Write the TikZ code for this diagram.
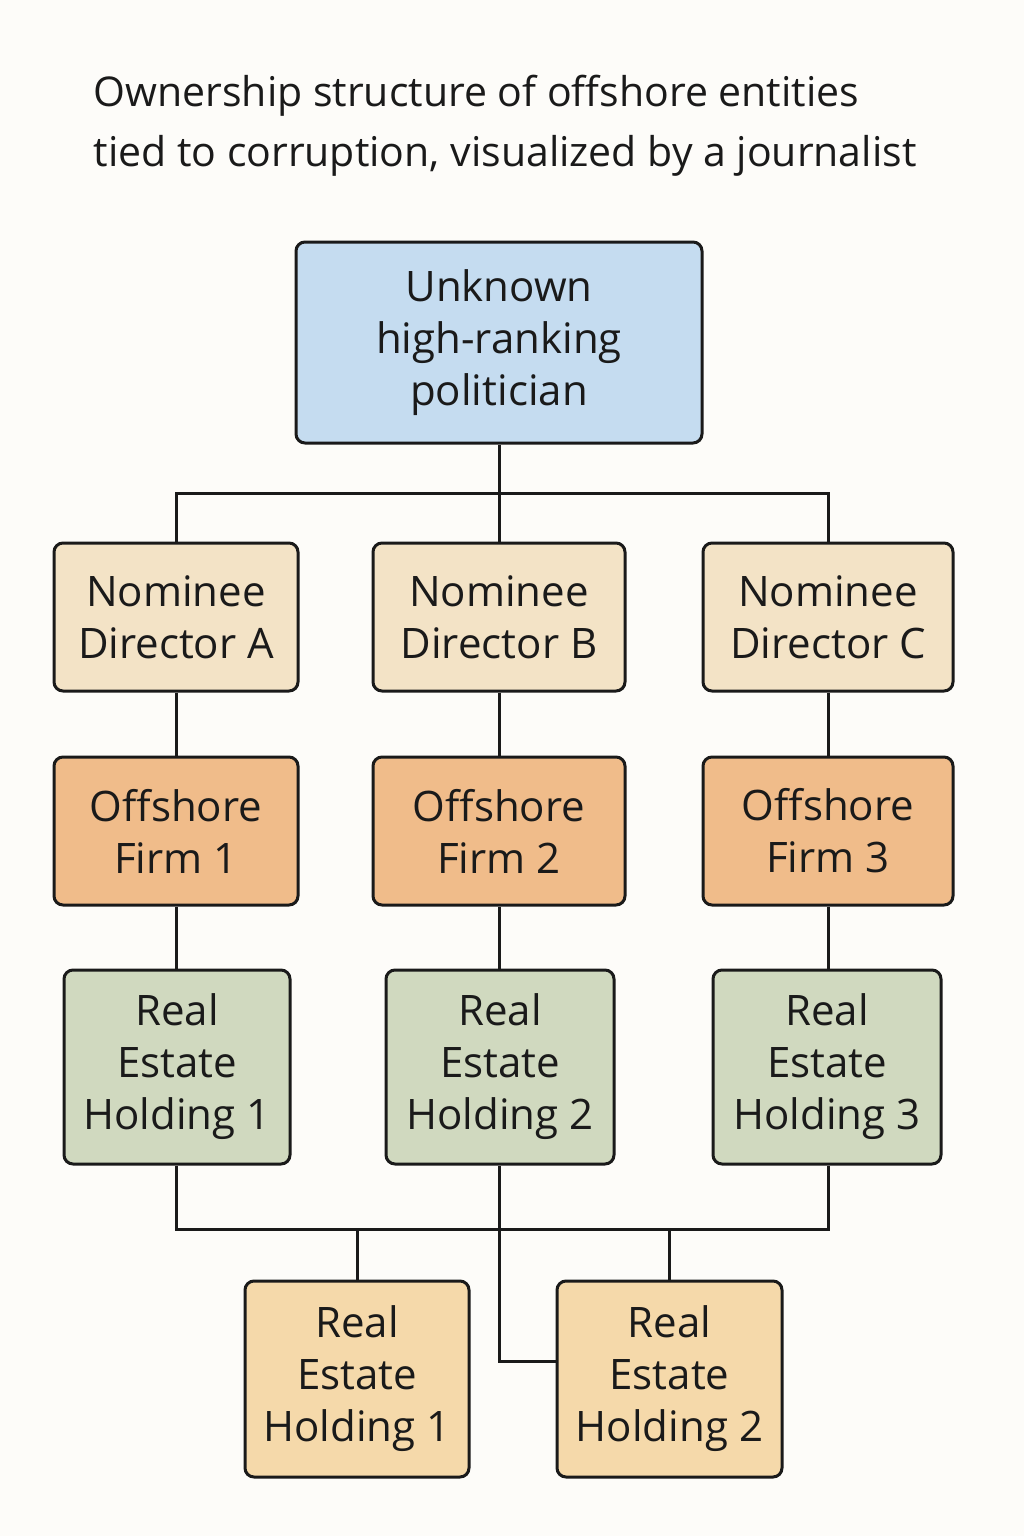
\documentclass[tikz,border=0pt]{standalone}
\usepackage{fontspec}
\setmainfont{Open Sans}
\definecolor{bg}{HTML}{FDFCF9}
\definecolor{cblue}{HTML}{C5DCF0}
\definecolor{cnom}{HTML}{F3E3C6}
\definecolor{coff}{HTML}{F0BC8A}
\definecolor{creal}{HTML}{D0D9BF}
\definecolor{cbot}{HTML}{F5D9AA}
\definecolor{ink}{HTML}{1A1A1A}
\begin{document}
\begin{tikzpicture}[x=1pt,y=-1pt,
  box/.style={draw=ink,line width=3pt,rounded corners=9pt,align=center,inner sep=0pt,
    font=\fontsize{42}{52}\selectfont,text=ink},
  conn/.style={draw=ink,line width=3pt}]
\fill[bg] (0,0) rectangle (1024,1536);
\useasboundingbox (0,0) rectangle (1024,1536);
\node[anchor=north west,align=left,font=\fontsize{41}{60}\selectfont,text=ink] (title) at (90,72)
  {Ownership structure of offshore entities\\tied to corruption, visualized by a journalist};
\newcommand{\mybox}[7]{\node[box,fill=#6,minimum width=#3-#2,minimum height=#5-#4] (#1) at ({(#2+#3)/2},{(#4+#5)/2}) {#7};}
\mybox{top}{296}{702}{242}{443}{cblue}{Unknown\\high-ranking\\politician}
\mybox{na}{54}{298}{543}{691}{cnom}{Nominee\\Director A}
\mybox{nb}{373}{625}{543}{691}{cnom}{Nominee\\Director B}
\mybox{nc}{703}{953}{543}{691}{cnom}{Nominee\\Director C}
\mybox{oa}{54}{298}{757}{905}{coff}{Offshore\\Firm 1}
\mybox{ob}{373}{625}{757}{905}{coff}{Offshore\\Firm 2}
\mybox{oc}{703}{953}{757}{905}{coff}{Offshore\\Firm 3}
\mybox{ra}{64}{290}{970}{1164}{creal}{Real\\Estate\\Holding 1}
\mybox{rb}{386}{614}{970}{1164}{creal}{Real\\Estate\\Holding 2}
\mybox{rc}{713}{941}{970}{1164}{creal}{Real\\Estate\\Holding 3}
\mybox{ba}{245}{469}{1281}{1477}{cbot}{Real\\Estate\\Holding 1}
\mybox{bb}{557}{782}{1281}{1477}{cbot}{Real\\Estate\\Holding 2}
\coordinate (t1) at (499,493);
\coordinate (t2) at (499,1229);
\draw[conn] (top.south) -- (nb.north);
\draw[conn] (na.north) |- (t1) -| (nc.north);
\draw[conn] (na) -- (oa); \draw[conn] (nb) -- (ob); \draw[conn] (nc) -- (oc);
\draw[conn] (oa.south) -- (oa.south|-ra.north);
\draw[conn] (ob.south) -- (ob.south|-rb.north);
\draw[conn] (oc.south) -- (oc.south|-rc.north);
\draw[conn] (oa.south|-ra.south) |- (t2) -| (oc.south|-rc.south);
\draw[conn] (ob.south|-rb.south) -- (t2);
\draw[conn] (ba.north) -- (ba.north|-t2);
\draw[conn] (bb.north) -- (bb.north|-t2);
\draw[conn] (t2) |- (bb.west|-0,1361);
\end{tikzpicture}
\end{document}
